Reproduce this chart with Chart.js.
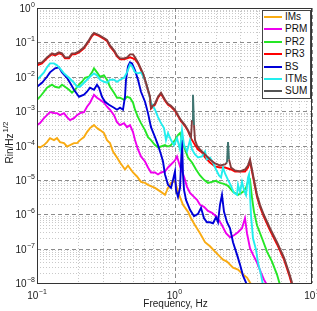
<!DOCTYPE html>
<html><head><meta charset="utf-8">
<script src="https://cdn.jsdelivr.net/npm/chart.js@4.4.1/dist/chart.umd.min.js"></script>
<style>
html,body{margin:0;padding:0;background:#fff;}
#wrap{position:relative;width:317px;height:311px;overflow:hidden;}
#legend{position:absolute;left:262px;top:10px;width:47px;height:87px;border:1px solid #444;background:#fff;font:10px "Liberation Sans",Arial,sans-serif;color:#111;}
.row{position:absolute;left:0;width:47px;height:12px;line-height:12px;white-space:nowrap;}
.sw{position:absolute;left:1px;top:5px;width:18px;height:0;border-top:2px solid #000;}
.lb{position:absolute;left:22px;top:0;}
</style></head>
<body>
<div id="wrap"><canvas id="c" width="317" height="311"></canvas><div id="legend"></div></div>
<script>
// ---- data ----
const seriesLabels = ['IMs','PRM','PR2','PR3','BS','ITMs','SUM'];

const imsFreq = [0.1,0.1052,0.1124,0.1182,0.1243,0.1329,0.1398,0.147,0.1572,0.1652,0.1738,0.1858,0.1954,0.2055,0.2197,0.231,0.2429,0.2597,0.2732,0.2872,0.3071,0.3229,0.3395,0.357,0.3818,0.4015,0.4365,0.459,0.4992,0.5337,0.5706,0.6102,0.6416,0.7214,0.7977,0.853,0.897,0.943,1.008,1.06,1.153,1.254,1.318,1.41,1.533,1.667,1.812,1.97,2.072,2.253,2.409,2.664,2.896,3.149,3.367,3.541,3.723];
const imsVal = [9.353e-5,8.747e-5,1.027e-4,1.256e-4,1.641e-4,1.436e-4,1.641e-4,1.256e-4,1.174e-4,9.353e-5,1.027e-4,1.174e-4,1.174e-4,1.436e-4,1.755e-4,2.452e-4,3.205e-4,3.917e-4,3.205e-4,2.803e-4,2.293e-4,1.436e-4,1.174e-4,6.692e-5,4.479e-5,3.205e-5,2.006e-5,2.622e-5,1.641e-5,1.256e-5,8.747e-6,8.181e-6,7.156e-6,5.854e-6,4.479e-6,3.664e-6,5.854e-6,8.181e-6,9.353e-6,4.479e-6,1.876e-6,1.174e-6,7.651e-7,4.789e-7,2.803e-7,1.535e-7,1.174e-7,8.181e-8,6.692e-8,4.789e-8,4.189e-8,2.803e-8,2.452e-8,1.755e-8,1.436e-8,1.027e-8,7.651e-9];

const prmFreq = [0.1,0.1052,0.1124,0.1182,0.1243,0.1329,0.1398,0.147,0.1572,0.1652,0.1738,0.1858,0.1954,0.2055,0.2197,0.231,0.2429,0.2597,0.2732,0.2872,0.3071,0.3229,0.3395,0.3631,0.3818,0.4015,0.4294,0.4514,0.4748,0.4992,0.5162,0.5427,0.5706,0.6102,0.6416,0.6746,0.7214,0.7586,0.7977,0.853,0.897,0.943,1.008,1.043,1.097,1.173,1.233,1.297,1.386,1.458,1.533,1.639,1.752,1.874,2.004,2.107,2.215,2.369,2.533,2.709,2.896,3.097,3.256,3.367,3.541,3.723,3.981,4.257,4.476,4.707];
const prmVal = [3.917e-4,4.479e-4,6.259e-4,7.651e-4,9.353e-4,8.747e-4,8.747e-4,7.651e-4,8.747e-4,6.692e-4,5.475e-4,6.259e-4,7.651e-4,8.747e-4,9.353e-4,1.343e-3,1.755e-3,2.997e-3,2.452e-3,2.145e-3,1.755e-3,1.343e-3,1.098e-3,7.651e-4,4.789e-4,3.917e-4,4.479e-4,3.427e-4,3.917e-4,2.452e-4,1.436e-4,7.651e-5,4.789e-5,3.427e-5,2.293e-5,1.641e-5,1.641e-5,1.436e-5,1.641e-5,1.755e-5,2.293e-5,2.803e-5,3.664e-5,4.789e-5,2.452e-5,1.256e-5,6.259e-6,4.189e-6,3.205e-6,2.622e-6,1.876e-6,1.641e-6,1.256e-6,1.098e-6,8.747e-7,6.692e-7,4.789e-7,2.803e-7,2.145e-7,2.452e-7,2.997e-7,3.917e-7,7.651e-7,2.803e-7,1.027e-7,6.692e-8,3.917e-8,2.006e-8,1.256e-8,8.747e-9];

const pr2Freq = [0.1,0.1052,0.1124,0.1182,0.1286,0.1352,0.1445,0.152,0.1598,0.1709,0.1797,0.189,0.2021,0.2125,0.2234,0.2389,0.2512,0.2597,0.2732,0.2872,0.3071,0.3229,0.3395,0.3631,0.3818,0.4015,0.4294,0.4514,0.4748,0.4992,0.5162,0.5427,0.5706,0.6102,0.6416,0.6746,0.7214,0.7586,0.7977,0.853,0.897,0.943,1.008,1.06,1.097,1.134,1.192,1.254,1.341,1.434,1.533,1.639,1.752,1.874,2.004,2.142,2.291,2.45,2.664,2.896,3.149,3.311,3.424,3.541,3.661,3.786,3.981,4.329,4.707,5.118,5.566,5.853];
const pr2Val = [2.145e-3,2.622e-3,3.664e-3,4.789e-3,5.854e-3,5.12e-3,4.789e-3,5.854e-3,5.12e-3,4.189e-3,3.427e-3,4.189e-3,5.854e-3,7.156e-3,9.353e-3,0.01,0.01343,0.01755,0.01343,0.01,0.01098,8.181e-3,5.12e-3,3.427e-3,2.452e-3,2.452e-3,2.145e-3,2.622e-3,2.452e-3,1.755e-3,1.098e-3,6.692e-4,4.479e-4,2.803e-4,1.755e-4,1.436e-4,1.027e-4,8.747e-5,9.353e-5,1.027e-4,9.353e-5,1.027e-4,1.436e-4,2.006e-4,2.293e-4,1.436e-4,7.651e-5,4.479e-5,3.205e-5,2.006e-5,1.343e-5,1e-5,8.181e-6,8.747e-6,9.353e-6,8.181e-6,7.651e-6,6.692e-6,4.479e-6,3.664e-6,4.479e-6,5.854e-6,8.747e-6,1e-5,2.997e-6,1.174e-6,4.789e-7,2.006e-7,8.181e-8,4.189e-8,1.755e-8,8.747e-9];

const pr3Freq = [0.1,0.1087,0.1182,0.1286,0.1352,0.1445,0.152,0.1598,0.1709,0.1797,0.189,0.2021,0.2197,0.2389,0.2512,0.2597,0.2824,0.3071,0.3229,0.3395,0.3631,0.3818,0.4015,0.4294,0.4514,0.4748,0.4992,0.5162,0.5427,0.5901,0.6205,0.6634,0.6746,0.7214,0.7586,0.7977,0.853,0.897,0.943,1.008,1.06,1.115,1.192,1.254,1.318,1.41,1.483,1.585,1.667,1.812,1.97,2.142,2.33,2.576,2.754,2.995,3.256,3.424,3.541,3.661,3.786,3.981,4.186,4.476,4.95,5.566,6.258,6.804,7.154];
const pr3Val = [0.02145,0.02452,0.03427,0.0448,0.04189,0.0479,0.0448,0.03427,0.03427,0.0448,0.0448,0.0512,0.06692,0.1098,0.1535,0.1755,0.1535,0.1256,0.1098,0.07651,0.05475,0.03917,0.03205,0.03205,0.03427,0.03664,0.03427,0.03205,0.02452,0.01174,6.259e-3,2.452e-3,1.174e-3,1.535e-3,2.452e-3,3.205e-3,2.006e-3,1.535e-3,1.343e-3,1.027e-3,7.156e-4,5.12e-4,3.664e-4,2.622e-4,1.641e-4,1.027e-4,7.651e-5,6.259e-5,4.479e-5,3.205e-5,2.452e-5,2.293e-5,2.293e-5,2.006e-5,1.755e-5,1.755e-5,1.755e-5,2.293e-5,3.427e-5,1.755e-5,8.747e-6,3.205e-6,1.641e-6,8.181e-7,3.427e-7,1.343e-7,4.789e-8,1.755e-8,8.747e-9];

const bsFreq = [0.1,0.1087,0.1182,0.1243,0.1352,0.1445,0.152,0.1652,0.1738,0.1858,0.2021,0.2197,0.231,0.2429,0.2597,0.2732,0.2824,0.297,0.3123,0.3339,0.3631,0.3818,0.4015,0.4222,0.4365,0.444,0.459,0.4748,0.4909,0.5162,0.5427,0.5706,0.6102,0.6416,0.6746,0.7214,0.7586,0.7977,0.8249,0.853,0.897,0.943,0.9752,1.008,1.025,1.06,1.097,1.134,1.153,1.173,1.213,1.297,1.386,1.483,1.559,1.639,1.723,1.812,1.906,2.004,2.072,2.142,2.215,2.291,2.409,2.533,2.664,2.848,2.995,3.149,3.311,3.424];
const bsVal = [5.12e-3,6.692e-3,0.01,0.01343,0.01755,0.01876,0.01343,9.353e-3,6.692e-3,4.189e-3,2.622e-3,2.997e-3,3.664e-3,4.789e-3,4.189e-3,5.854e-3,4.789e-3,2.622e-3,1.876e-3,1.535e-3,1.256e-3,1.098e-3,1.256e-3,1.098e-3,2.622e-3,8.181e-3,0.02006,0.02622,0.02452,0.01535,8.181e-3,3.664e-3,1.876e-3,8.747e-4,3.427e-4,1.755e-4,1.027e-4,5.475e-5,3.427e-5,1.436e-5,7.156e-6,5.854e-6,1e-5,1.755e-5,5.12e-6,3.205e-6,5.854e-6,1.436e-4,1.436e-5,5.12e-6,2.622e-6,1.343e-6,8.747e-7,1.027e-6,1.535e-6,7.651e-7,5.854e-7,5.854e-7,5.475e-7,8.181e-7,5.854e-7,1.876e-6,3.664e-6,1.174e-6,5.854e-7,3.917e-7,1.535e-7,6.692e-8,3.427e-8,1.641e-8,1.027e-8,6.259e-9];

const itmFreq = [0.1,0.1052,0.1124,0.1182,0.1243,0.1329,0.1398,0.147,0.1572,0.1709,0.1858,0.1954,0.2055,0.2197,0.231,0.2429,0.2597,0.2732,0.2872,0.3071,0.3229,0.3395,0.3631,0.3818,0.4015,0.4294,0.4514,0.4748,0.4909,0.5162,0.5427,0.5706,0.6102,0.6416,0.6746,0.7214,0.7586,0.7977,0.8388,0.8675,0.897,0.943,0.9917,1.043,1.097,1.134,1.173,1.233,1.297,1.341,1.41,1.483,1.585,1.667,1.723,1.812,1.906,2.004,2.107,2.179,2.253,2.33,2.45,2.576,2.709,2.848,2.896,2.995,3.097,3.202,3.311,3.424,3.482,3.601,3.723,3.915,4.048,4.257,4.402];
const itmVal = [8.181e-3,0.01,0.01343,0.01876,0.02452,0.02452,0.02145,0.01755,0.01256,9.353e-3,6.692e-3,5.12e-3,5.12e-3,6.692e-3,8.181e-3,0.01,0.01256,0.01098,8.181e-3,7.156e-3,6.692e-3,8.181e-3,8.181e-3,7.156e-3,8.181e-3,9.353e-3,0.01343,0.02293,0.02006,0.01343,0.01256,0.01343,8.181e-3,4.189e-3,1.755e-3,1.098e-3,6.692e-4,4.479e-4,3.205e-4,1.436e-4,2.293e-4,1.436e-4,1.027e-4,1.641e-4,7.651e-5,2.803e-4,1.027e-4,6.692e-5,1.436e-4,7.651e-5,5.475e-5,4.479e-5,4.789e-5,6.692e-5,3.917e-5,4.479e-5,3.205e-5,2.006e-5,1.343e-5,1.174e-5,2.293e-5,1.535e-5,1e-5,6.692e-6,4.189e-6,3.664e-6,7.156e-6,4.479e-6,8.747e-6,5.12e-6,3.664e-6,1.174e-5,1.436e-5,9.353e-7,2.006e-7,9.353e-8,3.917e-8,1.755e-8,8.747e-9];

const sumFreq = [0.1,0.1087,0.1182,0.1286,0.1352,0.1445,0.152,0.1598,0.1709,0.1797,0.189,0.2021,0.2197,0.2389,0.2512,0.2597,0.2824,0.3071,0.3229,0.3395,0.3631,0.3818,0.4015,0.4294,0.4514,0.4748,0.4992,0.5162,0.5427,0.5901,0.6205,0.6634,0.6746,0.6976,0.7214,0.7586,0.7977,0.853,0.897,0.943,1.008,1.06,1.115,1.192,1.254,1.318,1.341,1.363,1.386,1.41,1.458,1.533,1.667,1.812,1.97,2.142,2.33,2.409,2.45,2.491,2.576,2.754,2.995,3.256,3.424,3.541,3.661,3.786,3.981,4.186,4.476,4.95,5.566,6.258,6.804,7.154,7.397];
const sumVal = [0.0245,0.0262,0.0366,0.0479,0.0448,0.0512,0.0479,0.0366,0.0366,0.0479,0.0479,0.0548,0.0716,0.117,0.164,0.188,0.164,0.134,0.117,0.0818,0.0585,0.0419,0.0343,0.0343,0.0366,0.0448,0.0448,0.0366,0.0262,0.01256,6.69e-3,2.62e-3,1.256e-3,1.436e-3,1.641e-3,2.62e-3,3.427e-3,2.145e-3,1.641e-3,1.436e-3,1.098e-3,7.65e-4,5.475e-4,3.917e-4,2.803e-4,1.755e-4,5.475e-4,2.997e-3,3.917e-4,1.436e-4,1e-4,7.65e-5,5.475e-5,3.917e-5,2.997e-5,2.622e-5,2.803e-5,3.205e-5,1.256e-4,3.917e-5,2.293e-5,1.876e-5,1.755e-5,2.006e-5,2.622e-5,3.917e-5,2.006e-5,1e-5,3.664e-6,1.876e-6,9.353e-7,3.917e-7,1.535e-7,5.475e-8,2.006e-8,1.027e-8,7e-9];

const xTickValues = [0.1, 1, 10];
const xTickLabels = [['10','\u22121'], ['10','0'], ['10','1']];
const yTickValues = [1e-8, 1e-7, 1e-6, 1e-5, 1e-4, 1e-3, 1e-2, 1e-1, 1];
const yTickLabels = [['10','\u22128'],['10','\u22127'],['10','\u22126'],['10','\u22125'],['10','\u22124'],['10','\u22123'],['10','\u22122'],['10','\u22121'],['10','0']];
const xTitle = 'Frequency, Hz';
const yTitle = ['Rin/Hz', '1/2'];

// ---- styling ----
const lineColors = ['#f9ab12','#ee00ee','#25e625','#ff0000','#0000d8','#22eeee','#843c3c'];
const legendColors = ['#f9ab12','#ee00ee','#25e625','#ff0000','#0000d8','#22eeee','#555555'];
const spikeColor = '#3f7470';
const FAM = '"Liberation Sans", Arial, sans-serif';
const TEXT_COLOR = '#1a1a1a';

const seriesData = [[imsFreq,imsVal],[prmFreq,prmVal],[pr2Freq,pr2Val],[pr3Freq,pr3Val],[bsFreq,bsVal],[itmFreq,itmVal],[sumFreq,sumVal]];
const toPts = (f, v) => f.map((x, i) => ({x: x, y: v[i]}));

// local spikes in the SUM trace keep the grey-teal legend tone
const spikeIdx = sumVal.map((v,i) => (i>0 && i<sumVal.length-1 && v > 2*sumVal[i-1] && v > 2*sumVal[i+1]) ? i : -1).filter(i => i >= 0);

const datasets = seriesData.map((s, i) => {
  const ds = {
    label: seriesLabels[i],
    data: toPts(s[0], s[1]),
    borderColor: lineColors[i],
    backgroundColor: lineColors[i],
    borderWidth: 1.9,
    pointRadius: 0,
    tension: 0,
    fill: false,
    order: seriesLabels.length - i
  };
  if (seriesLabels[i] === 'SUM') {
    ds.segment = { borderColor: ctx => spikeIdx.some(k => ctx.p0DataIndex >= k-1 && ctx.p0DataIndex <= k) ? spikeColor : undefined };
  }
  return ds;
});

function drawPow(ctx, parts, x, baseY, align) {
  ctx.font = '10px ' + FAM;
  const wb = ctx.measureText(parts[0]).width;
  ctx.font = '7px ' + FAM;
  const we = ctx.measureText(parts[1]).width;
  const total = wb + we + 0.5;
  const start = align === 'center' ? x - total / 2 : x - total;
  ctx.textAlign = 'left';
  ctx.textBaseline = 'alphabetic';
  ctx.font = '10px ' + FAM;
  ctx.fillText(parts[0], start, baseY);
  ctx.font = '7px ' + FAM;
  ctx.fillText(parts[1], start + wb + 0.5, baseY - 5);
}

const axesPlugin = {
  id: 'matlabAxes',
  beforeDatasetsDraw(chart) {
    const {ctx, chartArea: {left, right, top, bottom}, scales: {x, y}} = chart;
    ctx.save();
    ctx.lineWidth = 1;
    ctx.strokeStyle = '#c9c9c9';
    ctx.setLineDash([1, 2]);
    ctx.beginPath();
    xTickValues.forEach(d => { for (let m = 2; m <= 9; m++) { const v = d*m; if (v < x.max) { const p = Math.round(x.getPixelForValue(v)) + 0.5; ctx.moveTo(p, top); ctx.lineTo(p, bottom); } } });
    yTickValues.forEach(d => { for (let m = 2; m <= 9; m++) { const v = d*m; if (v < y.max) { const p = Math.round(y.getPixelForValue(v)) + 0.5; ctx.moveTo(left, p); ctx.lineTo(right, p); } } });
    ctx.stroke();
    ctx.strokeStyle = '#8c8c8c';
    ctx.setLineDash([4, 3]);
    ctx.beginPath();
    xTickValues.forEach(v => { const p = Math.round(x.getPixelForValue(v)) + 0.5; ctx.moveTo(p, top); ctx.lineTo(p, bottom); });
    yTickValues.forEach(v => { const p = Math.round(y.getPixelForValue(v)) + 0.5; ctx.moveTo(left, p); ctx.lineTo(right, p); });
    ctx.stroke();
    ctx.restore();
  },
  afterDatasetsDraw(chart) {
    const {ctx, chartArea: {left, right, top, bottom}, scales: {x, y}} = chart;
    ctx.save();
    ctx.strokeStyle = '#333';
    ctx.lineWidth = 1;
    ctx.setLineDash([]);
    ctx.strokeRect(Math.round(left) + 0.5, Math.round(top) + 0.5, Math.round(right) - Math.round(left) - 1, Math.round(bottom) - Math.round(top));
    ctx.fillStyle = TEXT_COLOR;
    xTickValues.forEach((v, i) => drawPow(ctx, xTickLabels[i], x.getPixelForValue(v), bottom + 16, 'center'));
    yTickValues.forEach((v, i) => drawPow(ctx, yTickLabels[i], left - 2, y.getPixelForValue(v) + 4, 'right'));
    ctx.font = '10px ' + FAM;
    ctx.textAlign = 'center';
    ctx.textBaseline = 'alphabetic';
    ctx.fillText(xTitle, (left + right) / 2 + 1, bottom + 24);
    ctx.save();
    ctx.font = '10px ' + FAM;
    const wMain = ctx.measureText(yTitle[0]).width;
    ctx.font = '8px ' + FAM;
    const wSup = ctx.measureText(yTitle[1]).width;
    const tot = wMain + wSup + 1;
    ctx.translate(13, (top + bottom) / 2 - 3);
    ctx.rotate(-Math.PI / 2);
    ctx.textAlign = 'left';
    ctx.font = '10px ' + FAM;
    ctx.fillText(yTitle[0], -tot / 2, 0);
    ctx.font = '8px ' + FAM;
    ctx.fillText(yTitle[1], -tot / 2 + wMain + 1, -5);
    ctx.restore();
    ctx.restore();
  }
};

new Chart(document.getElementById('c'), {
  type: 'line',
  data: { datasets },
  plugins: [axesPlugin],
  options: {
    responsive: false,
    devicePixelRatio: 1,
    animation: false,
    layout: { padding: { top: 8, right: 5, left: 37, bottom: 28 } },
    plugins: { legend: { display: false }, tooltip: { enabled: false } },
    scales: {
      x: { type: 'logarithmic', min: 0.1, max: 10, display: false },
      y: { type: 'logarithmic', min: 1e-8, max: 1, display: false }
    }
  }
});

// legend (HTML text)
const lg = document.getElementById('legend');
seriesLabels.forEach((name, i) => {
  const row = document.createElement('div');
  row.className = 'row';
  row.style.top = (i * 12.4) + 'px';
  const sw = document.createElement('span');
  sw.className = 'sw';
  sw.style.borderTopColor = legendColors[i];
  const lb = document.createElement('span');
  lb.className = 'lb';
  lb.textContent = name;
  row.appendChild(sw); row.appendChild(lb);
  lg.appendChild(row);
});
</script>
</body></html>
